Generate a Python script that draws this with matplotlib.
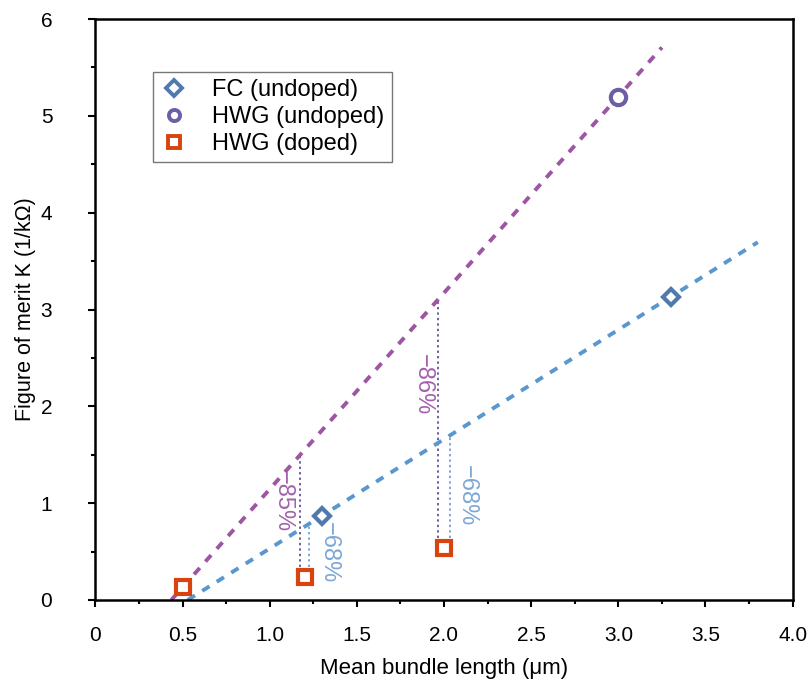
import numpy as np
import matplotlib
matplotlib.use("Agg")
import matplotlib.pyplot as plt
from matplotlib.ticker import MultipleLocator

plt.rcParams["font.family"] = ["Liberation Sans", "DejaVu Sans"]

# data
fc_x = [1.3, 3.3]
fc_y = [0.87, 3.13]
hwg_x = [3.0]
hwg_y = [5.2]
doped_x = [0.5, 1.2, 2.0]
doped_y = [0.13, 0.24, 0.54]

# trend line ranges
purple_range = [0.436, 3.25]
blue_range = [0.53, 3.8]

# reduction markers: (x of purple drop, x of blue drop, doped y, purple label, blue label)
drops = [(1.175, 1.227, 0.24, "−85%", "−68%"),
         (1.966, 2.034, 0.54, "−86%", "−68%")]

c_purple = "#9E55A3"
c_blue = "#5B97CF"
c_fc = "#5079AD"
c_hwg = "#6D5EA6"
c_doped = "#D8430F"
c_txt_purple = "#A461AC"
c_txt_blue = "#7DA7D6"

fig = plt.figure(figsize=(8.08, 6.81), dpi=100)
ax = fig.add_axes([0.118, 0.119, 0.863, 0.853])

# trend lines: purple through HWG points, blue through FC points
p_slope = (hwg_y[0] - doped_y[0]) / (hwg_x[0] - doped_x[0])
p_int = doped_y[0] - p_slope * doped_x[0]
b_slope = (fc_y[1] - fc_y[0]) / (fc_x[1] - fc_x[0])
b_int = fc_y[0] - b_slope * fc_x[0]

px = np.array(purple_range)
bx = np.array(blue_range)
ax.plot(px, p_slope * px + p_int, ls=(0, (2.2, 2.2)), lw=2.8, color=c_purple, zorder=2)
ax.plot(bx, b_slope * bx + b_int, ls=(0, (2.2, 2.2)), lw=2.8, color=c_blue, zorder=2)

# dotted drop lines and labels
for xp, xb, yd, lp, lb in drops:
    ax.plot([xp, xp], [yd + 0.1, p_slope * xp + p_int], ls=(0, (1.2, 1.6)),
            lw=1.4, color=c_hwg, zorder=1)
    ax.plot([xb, xb], [yd + 0.1, b_slope * xb + b_int], ls=(0, (1.2, 1.6)),
            lw=1.4, color=c_txt_blue, zorder=1)

ax.text(1.077, 1.02, drops[0][3], rotation=-90, color=c_txt_purple, fontsize=17,
        ha="center", va="center")
ax.text(1.34, 0.49, drops[0][4], rotation=-90, color=c_txt_blue, fontsize=17,
        ha="center", va="center")
ax.text(1.88, 2.22, drops[1][3], rotation=-90, color=c_txt_purple, fontsize=17,
        ha="center", va="center")
ax.text(2.13, 1.08, drops[1][4], rotation=-90, color=c_txt_blue, fontsize=17,
        ha="center", va="center")

ax.plot(fc_x, fc_y, ls="none", marker="D", ms=8, mfc="white", mec=c_fc, mew=3,
        label="FC (undoped)", zorder=4)
ax.plot(hwg_x, hwg_y, ls="none", marker="o", ms=11, mfc="white", mec=c_hwg, mew=3,
        label="HWG (undoped)", zorder=4)
ax.plot(doped_x, doped_y, ls="none", marker="s", ms=10, mfc="white", mec=c_doped, mew=3,
        label="HWG (doped)", zorder=4)

ax.set_xlim(0, 4.0)
ax.set_ylim(0, 6)
ax.xaxis.set_major_locator(MultipleLocator(0.5))
ax.xaxis.set_minor_locator(MultipleLocator(0.25))
ax.yaxis.set_major_locator(MultipleLocator(1))
ax.yaxis.set_minor_locator(MultipleLocator(0.5))
ax.set_xticks(np.arange(0, 4.01, 0.5))
ax.set_xticklabels(["0", "0.5", "1.0", "1.5", "2.0", "2.5", "3.0", "3.5", "4.0"])
ax.tick_params(which="major", direction="out", length=5, width=1.5, labelsize=15, pad=14)
ax.tick_params(which="minor", direction="out", length=3, width=1.5)
ax.tick_params(axis="y", which="major", pad=26)
for s in ax.spines.values():
    s.set_linewidth(1.8)

ax.set_xlabel("Mean bundle length (μm)", fontsize=16, labelpad=9)
ax.set_ylabel("Figure of merit K (1/kΩ)", fontsize=15.5, labelpad=3)

leg = ax.legend(loc="upper left", bbox_to_anchor=(0.083, 0.909), fontsize=17,
                frameon=True, fancybox=False, edgecolor="#555555", borderaxespad=0,
                handletextpad=1.0, borderpad=0.3, labelspacing=0.22, handlelength=1.2)
leg.get_frame().set_linewidth(1.0)
for h in leg.legend_handles:
    h.set_markersize(8)
    h.set_markeredgewidth(2.8)

fig.savefig("out.png", dpi=100)
